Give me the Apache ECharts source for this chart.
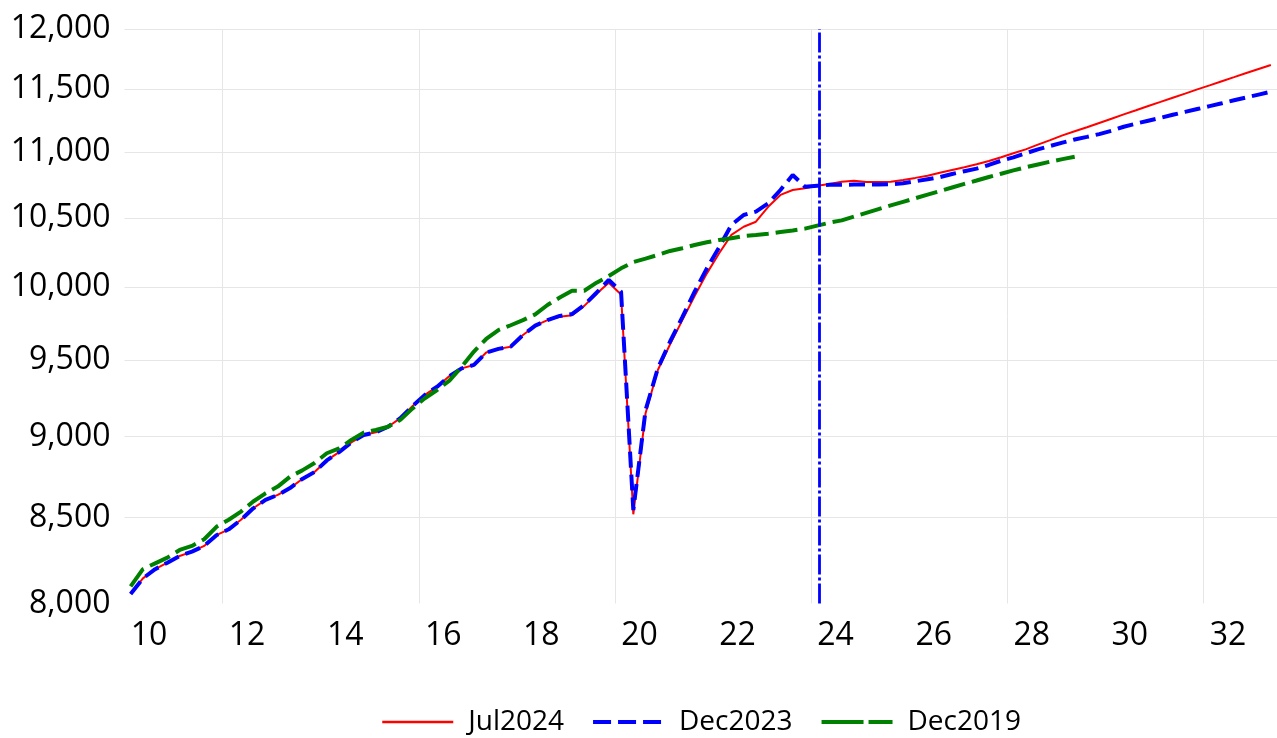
<!DOCTYPE html>
<html>
<head>
<meta charset="utf-8">
<title>Forecast vintages</title>
<script src="https://cdn.jsdelivr.net/npm/echarts@6/dist/echarts.min.js"></script>
<style>
  html, body { margin: 0; padding: 0; background: #fff; }
  #chart { width: 1277px; height: 738px; }
</style>
</head>
<body>
<div id="chart"></div>
<script>
// quarterly series, first point = 2010Q1
var firstYear = 2010;
var seriesNames = ['Jul2024', 'Dec2023', 'Dec2019'];

var jul2024 = [
  8054, 8143, 8196, 8234, 8273, 8298, 8332, 8395, 8430, 8487,
  8556, 8607, 8637, 8679, 8735, 8778, 8850, 8902, 8963, 9010,
  9028, 9063, 9118, 9197, 9269, 9323, 9393, 9444, 9467, 9550,
  9575, 9590, 9669, 9733, 9771, 9795, 9805, 9870, 9955, 10033,
  9950, 8520, 9150, 9433, 9606, 9771, 9939, 10099, 10243, 10377,
  10437, 10474, 10585, 10674, 10711, 10725, 10743, 10757, 10774, 10782,
  10772, 10772, 10774, 10787, 10803, 10820, 10843, 10864, 10884, 10907,
  10932, 10961, 10992, 11023, 11060, 11095, 11132, 11165, 11196, 11230,
  11264, 11298, 11331, 11365, 11398, 11432, 11465, 11499, 11532, 11566,
  11599, 11633, 11666, 11699
];

var dec2023 = [
  8054, 8143, 8196, 8234, 8273, 8298, 8332, 8395, 8430, 8487,
  8556, 8607, 8637, 8679, 8735, 8778, 8850, 8902, 8963, 9010,
  9028, 9063, 9118, 9197, 9269, 9323, 9393, 9444, 9467, 9550,
  9575, 9590, 9669, 9733, 9771, 9800, 9813, 9876, 9962, 10052,
  9969, 8545, 9170, 9444, 9625, 9792, 9969, 10135, 10287, 10450,
  10524, 10549, 10611, 10711, 10825, 10736, 10743, 10750, 10750, 10752,
  10752, 10752, 10755, 10762, 10777, 10793, 10809, 10833, 10854, 10874,
  10902, 10935, 10961, 10992, 11023, 11049, 11075, 11100, 11120, 11142,
  11168, 11200, 11225, 11248, 11271, 11295, 11318, 11341, 11364, 11387,
  11411, 11434, 11457, 11480
];

var dec2019 = [
  8097, 8196, 8230, 8263, 8308, 8332, 8371, 8445, 8487, 8536,
  8597, 8647, 8688, 8749, 8788, 8834, 8895, 8925, 8979, 9025,
  9042, 9063, 9107, 9181, 9247, 9301, 9363, 9455, 9557, 9642,
  9703, 9736, 9771, 9811, 9876, 9928, 9976, 9976, 10033, 10080,
  10135, 10180, 10205, 10231, 10260, 10280, 10303, 10323, 10340, 10352,
  10369, 10377, 10386, 10398, 10410, 10423, 10445, 10467, 10484, 10512,
  10540, 10568, 10595, 10622, 10649, 10676, 10703, 10730, 10757, 10783,
  10810, 10835, 10860, 10884, 10906, 10927, 10947, 10966
];

var yTicks = [8000, 8500, 9000, 9500, 10000, 10500, 11000, 11500, 12000];
var yGridTicks = [8500, 9000, 9500, 10000, 10500, 11000, 11500, 12000];
var xLabelYears = [2010, 2012, 2014, 2016, 2018, 2020, 2022, 2024, 2026, 2028, 2030, 2032];
var xGridYears = [2012, 2016, 2020, 2024, 2028, 2032];
var cutoffYear = 2024.16;   // vertical line after 2024Q1

var FONT = '"Open Sans", "Liberation Sans", sans-serif';

// quarter index -> [year position at mid quarter, value]
function toPoints(arr) {
    return arr.map(function (v, i) {
        return [firstYear + i * 0.25 + 0.125, v];
    });
}

var chart = echarts.init(document.getElementById('chart'));

chart.setOption({
    animation: false,
    backgroundColor: '#fff',
    grid: { left: 124.5, right: 0, top: 29, bottom: 134.5 },
    legend: {
        left: 376,
        top: 703,
        itemWidth: 71,
        itemHeight: 14,
        itemGap: 27,
        itemStyle: { opacity: 0 },
        textStyle: { fontFamily: FONT, fontSize: 28, color: '#000', padding: [0, 0, 0, 10] },
        data: [
            { name: 'Jul2024', lineStyle: { width: 2.5 } },
            { name: 'Dec2023', lineStyle: { width: 4, type: [18, 7] } },
            { name: 'Dec2019', lineStyle: { width: 4, type: [42, 5] } }
        ]
    },
    xAxis: {
        type: 'value',
        min: 2010,
        max: 2033.5,
        axisLine: { show: false },
        axisTick: { show: false, customValues: xGridYears },
        splitLine: { show: true, lineStyle: { color: '#e6e6e6', width: 1 } },
        axisLabel: {
            customValues: xLabelYears.map(function (y) { return y + 0.5; }),
            formatter: function (v) { return String(Math.floor(v) % 100); },
            fontFamily: FONT,
            fontSize: 32,
            color: '#000',
            margin: 16
        }
    },
    yAxis: {
        type: 'log',
        logBase: 10,
        min: 8000,
        max: 12000,
        axisLine: { show: false },
        axisTick: { show: false, customValues: yGridTicks },
        splitLine: { show: true, lineStyle: { color: '#e6e6e6', width: 1 } },
        axisLabel: {
            customValues: yTicks,
            formatter: function (v) {
                if (v < 100) v = Math.pow(10, v);
                return Math.round(v).toLocaleString('en-US');
            },
            fontFamily: FONT,
            fontSize: 32,
            color: '#000',
            margin: 14
        }
    },
    series: [
        {
            name: seriesNames[0],
            type: 'line',
            data: toPoints(jul2024),
            showSymbol: false,
            symbol: 'none',
            z: 2,
            lineStyle: { color: '#ff0000', width: 2 },
            itemStyle: { color: '#ff0000' }
        },
        {
            name: seriesNames[1],
            type: 'line',
            data: toPoints(dec2023),
            showSymbol: false,
            symbol: 'none',
            z: 3,
            lineStyle: { color: '#0000ff', width: 4, type: [16, 7] },
            itemStyle: { color: '#0000ff' },
            markLine: {
                silent: true,
                symbol: ['none', 'none'],
                label: { show: false },
                lineStyle: { color: '#0000ff', width: 2.8, type: [20, 3, 3, 3] },
                data: [{ xAxis: cutoffYear }]
            }
        },
        {
            name: seriesNames[2],
            type: 'line',
            data: toPoints(dec2019),
            showSymbol: false,
            symbol: 'none',
            z: 4,
            lineStyle: { color: '#008000', width: 4, type: [22, 7] },
            itemStyle: { color: '#008000' }
        }
    ]
});
</script>
</body>
</html>
